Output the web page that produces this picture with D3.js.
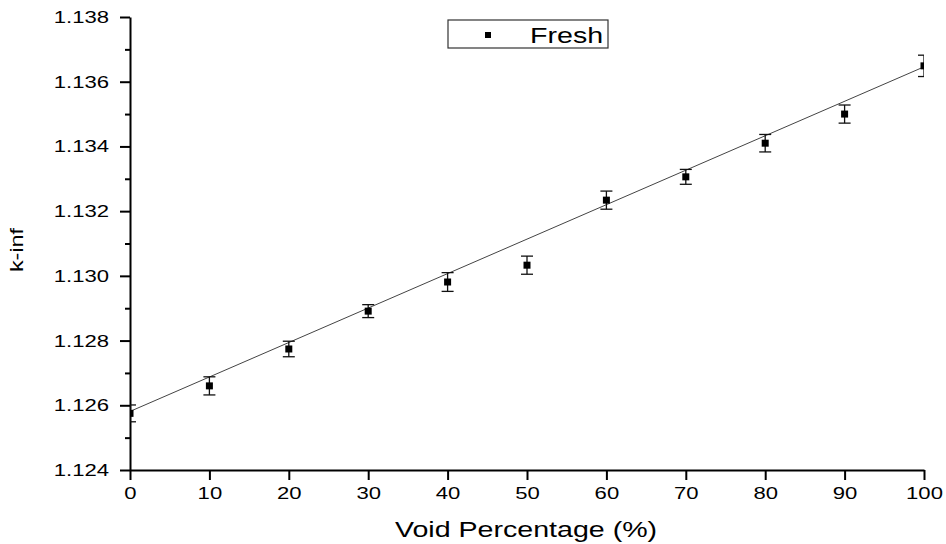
<!DOCTYPE html>
<html>
<head>
<meta charset="utf-8">
<script src="https://cdn.jsdelivr.net/npm/d3@7/dist/d3.min.js"></script>
<style>
  body { margin: 0; background: #fff; }
  svg { display: block; font-family: "Liberation Sans", Arial, sans-serif; }
  .axis path, .axis line { stroke: #000; stroke-width: 2px; }
  .axis text { fill: #000; font-size: 17px; }
</style>
</head>
<body>
<svg class="chart" width="946" height="544"></svg>
<script>
"use strict";

// void percentage (%)
var voids = [0, 10, 20, 30, 40, 50, 60, 70, 80, 90, 100];
// k-inf, fresh fuel
var kinf = [1.12575, 1.12660, 1.12774, 1.12891, 1.12981, 1.13033, 1.13234, 1.13306, 1.13410, 1.13500, 1.13649];
var kerr = [0.00026, 0.00028, 0.00024, 0.00020, 0.00029, 0.00028, 0.00028, 0.00023, 0.00027, 0.00028, 0.00033];
// linear fit as drawn
var fitIntercept = 1.12581;
var fitSlope = 0.0001065;

var xTicks = [0, 10, 20, 30, 40, 50, 60, 70, 80, 90, 100];
var yTicks = [1.124, 1.126, 1.128, 1.130, 1.132, 1.134, 1.136, 1.138];
var yMinor = [1.125, 1.127, 1.129, 1.131, 1.133, 1.135, 1.137];

var stretch = 1.3;  // the original lettering is wide
var plot = {left: 130, right: 924, top: 17, bottom: 470};

var x = d3.scaleLinear().domain([0, 100]).range([plot.left, plot.right]);
var y = d3.scaleLinear().domain([1.124, 1.138]).range([plot.bottom, plot.top]);

var chart = d3.select('.chart');

chart.append('clipPath').attr('id', 'clip')
  .append('rect')
    .attr('x', plot.left)
    .attr('y', plot.top)
    .attr('width', plot.right - plot.left)
    .attr('height', plot.bottom - plot.top);

// axes
var yAxis = chart.append('g')
  .attr('class', 'axis')
  .attr('transform', 'translate(' + plot.left + ',0)')
  .call(d3.axisLeft(y).tickValues(yTicks).tickSize(10).tickSizeOuter(0).tickPadding(11).tickFormat(d3.format('.3f')));
yAxis.selectAll('text')
  .attr('x', -21 / stretch)
  .attr('transform', 'scale(' + stretch + ',1)');

chart.append('g')
  .attr('class', 'axis')
  .attr('transform', 'translate(' + plot.left + ',0)')
  .call(d3.axisLeft(y).tickValues(yMinor).tickSize(5).tickSizeOuter(0).tickFormat(''))
  .select('.domain').remove();

var xAxis = chart.append('g')
  .attr('class', 'axis')
  .attr('transform', 'translate(0,' + plot.bottom + ')')
  .call(d3.axisBottom(x).tickValues(xTicks).tickSize(10).tickSizeOuter(0).tickPadding(7));
xAxis.selectAll('text')
  .attr('transform', 'scale(' + stretch + ',1)');

// axis titles
chart.append('text')
  .attr('transform', 'translate(526,537) scale(' + stretch + ',1)')
  .attr('text-anchor', 'middle')
  .style('font-size', '22px')
  .text('Void Percentage (%)');

chart.append('text')
  .attr('transform', 'translate(23,250) rotate(-90) scale(' + stretch + ',1)')
  .attr('text-anchor', 'middle')
  .style('font-size', '18px')
  .text('k-inf');

// fit line
var area = chart.append('g').attr('clip-path', 'url(#clip)');

area.append('line')
  .attr('x1', x(0))
  .attr('y1', y(fitIntercept))
  .attr('x2', x(100))
  .attr('y2', y(fitIntercept + fitSlope * 100))
  .style('stroke', '#444')
  .style('stroke-width', 1);

// error bars and points
var data = voids.map(function (v, i) {
  return {'x': v, 'y': kinf[i], 'e': kerr[i]};
});

var bars = area.selectAll('.err')
  .data(data)
  .enter()
  .append('g')
    .attr('class', 'err')
    .style('stroke', '#111')
    .style('stroke-width', 1.3);

bars.append('line')
  .attr('x1', function (d) { return x(d.x); })
  .attr('x2', function (d) { return x(d.x); })
  .attr('y1', function (d) { return y(d.y - d.e); })
  .attr('y2', function (d) { return y(d.y + d.e); });
bars.append('line')
  .attr('x1', function (d) { return x(d.x) - 6; })
  .attr('x2', function (d) { return x(d.x) + 6; })
  .attr('y1', function (d) { return y(d.y - d.e); })
  .attr('y2', function (d) { return y(d.y - d.e); });
bars.append('line')
  .attr('x1', function (d) { return x(d.x) - 6; })
  .attr('x2', function (d) { return x(d.x) + 6; })
  .attr('y1', function (d) { return y(d.y + d.e); })
  .attr('y2', function (d) { return y(d.y + d.e); });

area.selectAll('.pt')
  .data(data)
  .enter()
  .append('rect')
    .attr('class', 'pt')
    .attr('x', function (d) { return x(d.x) - 3.5; })
    .attr('y', function (d) { return y(d.y) - 3.5; })
    .attr('width', 7)
    .attr('height', 7)
    .style('fill', '#000');

// legend
var legend = chart.append('g');
legend.append('rect')
  .attr('x', 448)
  .attr('y', 20)
  .attr('width', 160)
  .attr('height', 28)
  .style('fill', '#fff')
  .style('stroke', '#333')
  .style('stroke-width', 1.2);
legend.append('rect')
  .attr('x', 485)
  .attr('y', 32)
  .attr('width', 6)
  .attr('height', 6)
  .style('fill', '#000');
legend.append('text')
  .attr('transform', 'translate(530,43) scale(' + stretch + ',1)')
  .style('font-size', '22px')
  .text('Fresh');
</script>
</body>
</html>
